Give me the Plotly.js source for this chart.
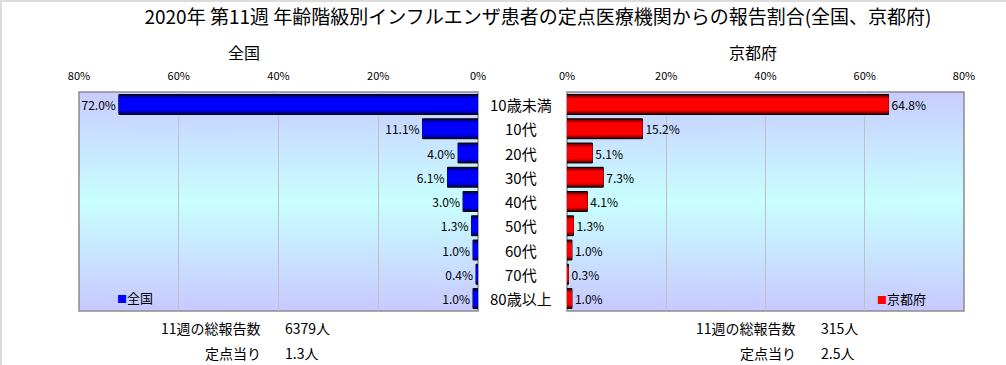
<!DOCTYPE html>
<html>
<head>
<meta charset="utf-8">
<script src="https://cdn.plot.ly/plotly-3.0.1.min.js"></script>
<style>
html,body{margin:0;padding:0;background:#fff;}
#wrap{position:relative;width:1006px;height:365px;}
#chart{width:1006px;height:365px;}
#edge{position:absolute;left:0;top:0;width:1006px;height:365px;border-top:2px solid #dcdcdc;border-left:2px solid #dcdcdc;box-sizing:border-box;pointer-events:none;}
</style>
</head>
<body>
<div id="wrap"><div id="chart"></div><div id="edge"></div></div>
<script>
// ---- data ----
const categories = ['10歳未満','10代','20代','30代','40代','50代','60代','70代','80歳以上'];
const national = [72.0, 11.1, 4.0, 6.1, 3.0, 1.3, 1.0, 0.4, 1.0];
const kyoto = [64.8, 15.2, 5.1, 7.3, 4.1, 1.3, 1.0, 0.3, 1.0];
const tickVals = [0, 20, 40, 60, 80];
const tickText = ['0%', '20%', '40%', '60%', '80%'];
const seriesNames = ['全国', '京都府'];
const summaryLabels = ['11週の総報告数', '定点当り'];
const nationalSummary = ['6379人', '1.3人'];
const kyotoSummary = ['315人', '2.5人'];
const titleText = '2020年 第11週 年齢階級別インフルエンザ患者の定点医療機関からの報告割合(全国、京都府)';

// ---- layout constants ----
const W = 1006, H = 365;
const plotTop = 92, plotBottom = 311;
const ph = plotBottom - plotTop;
const L = [79, 478], R = [567, 964];
const FONT = '"Noto Sans CJK JP", "Noto Sans", sans-serif';
const px = x => x / W;
const py = y => (plotBottom - y) / ph;

// gradient background image
function gradient() {
  const c = document.createElement('canvas');
  c.width = 4; c.height = 219;
  const g = c.getContext('2d');
  const lg = g.createLinearGradient(0, 0, 0, 219);
  lg.addColorStop(0, '#c8ccff');
  lg.addColorStop(0.5, '#c8ffff');
  lg.addColorStop(1, '#c8c8ff');
  g.fillStyle = lg; g.fillRect(0, 0, 4, 219);
  return c.toDataURL('image/png');
}
const bg = gradient();

const blueShades = ['#00003c', '#00008c', '#0000c8', '#0000ff'];
const redShades = ['#3c0000', '#8c0000', '#c80000', '#ff0000'];
const widths = [0.82, 0.74, 0.64, 0.52];

const traces = [];
function addSeries(vals, shades, xa) {
  widths.forEach((w, i) => {
    traces.push({
      type: 'bar', orientation: 'h',
      x: vals, y: categories,
      xaxis: xa, yaxis: 'y',
      width: w,
      marker: {color: shades[i], line: {color: i === 0 ? '#000' : shades[i], width: i === 0 ? 1 : 0}},
      text: i === 0 ? vals.map(v => v.toFixed(1) + '%') : undefined,
      textposition: i === 0 ? 'outside' : 'none',
      outsidetextfont: {size: 12, color: '#000', family: FONT},
      cliponaxis: false,
      hoverinfo: 'skip',
      showlegend: false
    });
  });
}
addSeries(national, blueShades, 'x');
addSeries(kyoto, redShades, 'x2');

const axisCommon = {
  side: 'top', anchor: 'y', tickmode: 'array', tickvals: tickVals, ticktext: tickText,
  showgrid: true, gridcolor: '#c0c0c0', gridwidth: 1, zeroline: false,
  ticks: '', ticklabelstandoff: 9, tickfont: {size: 11, color: '#000', family: FONT},
  showline: false, fixedrange: true
};

const annotations = [];
annotations.push({xref: 'paper', yref: 'paper', x: px(244), y: py(52), text: seriesNames[0], showarrow: false,
  font: {size: 16, color: '#000', family: FONT}, xanchor: 'center', yanchor: 'middle'});
annotations.push({xref: 'paper', yref: 'paper', x: px(753), y: py(52), text: seriesNames[1], showarrow: false,
  font: {size: 16, color: '#000', family: FONT}, xanchor: 'center', yanchor: 'middle'});
categories.forEach(c => annotations.push({xref: 'paper', yref: 'y', x: px(521), y: c, text: c, showarrow: false,
  font: {size: 15, color: '#000', family: FONT}, xanchor: 'center', yanchor: 'middle'}));
// legends
annotations.push({xref: 'paper', yref: 'paper', x: px(115), y: py(297), showarrow: false, xanchor: 'left', yanchor: 'middle',
  text: '<span style="color:#0000ff;font-size:10px">■</span>' + seriesNames[0], font: {size: 13, color: '#000', family: FONT}});
annotations.push({xref: 'paper', yref: 'paper', x: px(875), y: py(298), showarrow: false, xanchor: 'left', yanchor: 'middle',
  text: '<span style="color:#ff0000;font-size:10px">■</span>' + seriesNames[1], font: {size: 13, color: '#000', family: FONT}});
// summary
const rowsY = [328, 353];
summaryLabels.forEach((lab, i) => {
  annotations.push({xref: 'paper', yref: 'paper', x: px(263), y: py(rowsY[i]), text: lab, showarrow: false,
    xanchor: 'right', yanchor: 'middle', font: {size: 14, color: '#000', family: FONT}});
  annotations.push({xref: 'paper', yref: 'paper', x: px(283), y: py(rowsY[i]), text: nationalSummary[i], showarrow: false,
    xanchor: 'left', yanchor: 'middle', font: {size: 14, color: '#000', family: FONT}});
  annotations.push({xref: 'paper', yref: 'paper', x: px(798), y: py(rowsY[i]), text: lab, showarrow: false,
    xanchor: 'right', yanchor: 'middle', font: {size: 14, color: '#000', family: FONT}});
  annotations.push({xref: 'paper', yref: 'paper', x: px(819), y: py(rowsY[i]), text: kyotoSummary[i], showarrow: false,
    xanchor: 'left', yanchor: 'middle', font: {size: 14, color: '#000', family: FONT}});
});

const layout = {
  width: W, height: H,
  margin: {l: 0, r: 0, t: plotTop, b: H - plotBottom, pad: 0},
  paper_bgcolor: '#fff', plot_bgcolor: 'rgba(0,0,0,0)',
  font: {family: FONT, color: '#000'},
  title: {text: titleText, x: px(538), xanchor: 'center', xref: 'paper', y: 1 - 17 / H, yref: 'container', yanchor: 'middle',
    font: {size: 19, color: '#000', family: FONT}},
  barmode: 'overlay',
  showlegend: false,
  xaxis: Object.assign({}, axisCommon, {domain: [px(L[0]), px(L[1])], range: [80, 0]}),
  xaxis2: Object.assign({}, axisCommon, {domain: [px(R[0]), px(R[1])], range: [0, 80]}),
  yaxis: {type: 'category', autorange: 'reversed', showticklabels: false, showgrid: false, zeroline: false, ticks: '', fixedrange: true},
  images: [
    {source: bg, xref: 'paper', yref: 'paper', x: px(L[0]), y: 1, sizex: px(L[1] - L[0]), sizey: 1, sizing: 'stretch', xanchor: 'left', yanchor: 'top', layer: 'below'},
    {source: bg, xref: 'paper', yref: 'paper', x: px(R[0]), y: 1, sizex: px(R[1] - R[0]), sizey: 1, sizing: 'stretch', xanchor: 'left', yanchor: 'top', layer: 'below'}
  ],
  shapes: [
    {type: 'rect', xref: 'x domain', yref: 'paper', x0: 0, x1: 1, y0: 0, y1: 1, line: {color: '#8c8c8c', width: 1.5}, layer: 'below'},
    {type: 'rect', xref: 'x2 domain', yref: 'paper', x0: 0, x1: 1, y0: 0, y1: 1, line: {color: '#8c8c8c', width: 1.5}, layer: 'below'}
  ],
  annotations: annotations
};

Plotly.newPlot('chart', traces, layout, {displayModeBar: false, staticPlot: true});
</script>
</body>
</html>
